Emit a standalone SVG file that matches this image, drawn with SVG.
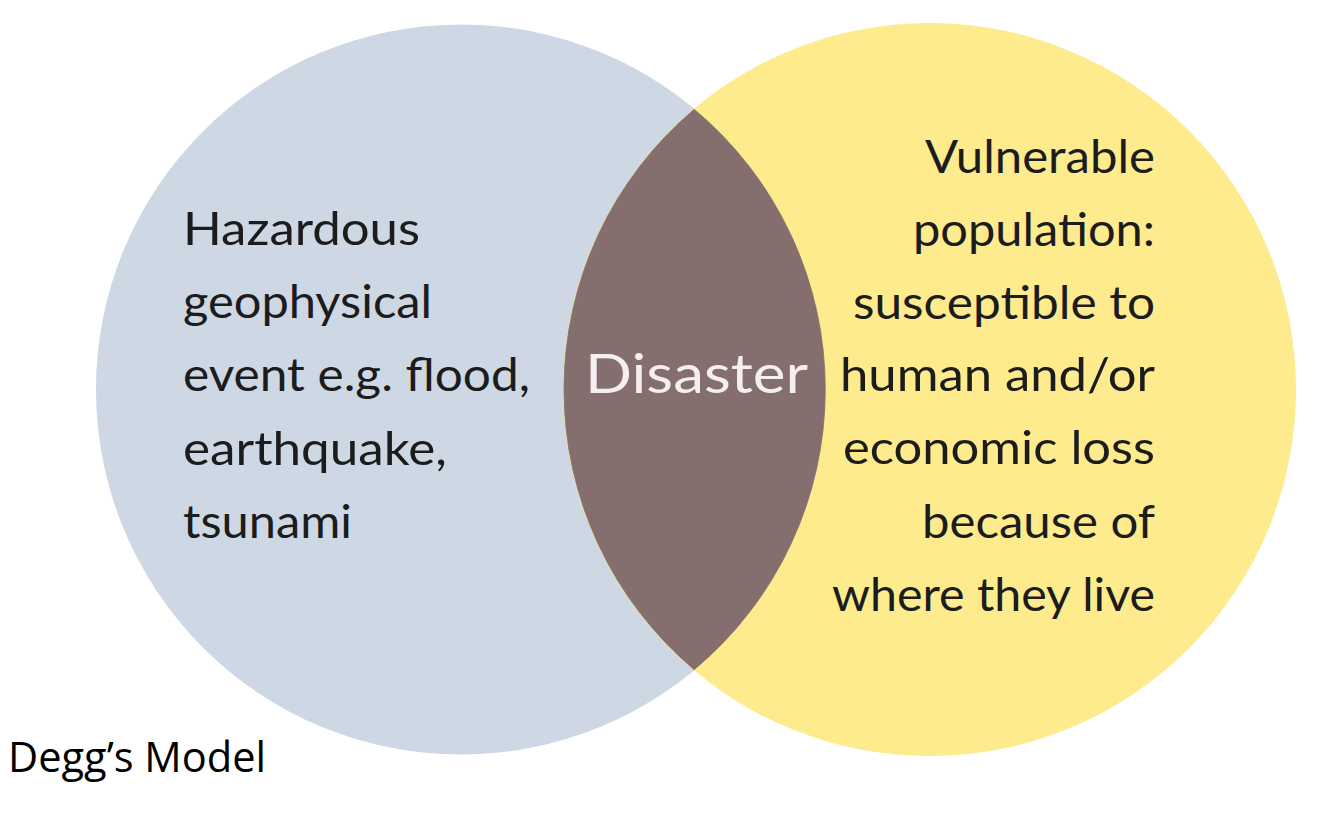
<svg xmlns="http://www.w3.org/2000/svg" width="1334" height="823" viewBox="0 0 1334 823">
<style>
.t{font-family:Lato,"Open Sans","DejaVu Sans",sans-serif;font-size:46px;fill:#1c1c1c}
.d{font-family:Lato,"Open Sans","DejaVu Sans",sans-serif;font-size:54px;fill:#f6efef}
.cap{font-family:"Open Sans","Liberation Sans",sans-serif;font-size:42px;fill:#000}
</style>
<rect width="1334" height="823" fill="#ffffff"/>
<g id="hazard">
<circle cx="461" cy="389.5" r="365" fill="#cdd8e4"/>
<text class="t" x="183" y="245" textLength="237" lengthAdjust="spacingAndGlyphs">Hazardous</text>
<text class="t" x="183" y="318" textLength="249" lengthAdjust="spacingAndGlyphs">geophysical</text>
<text class="t" x="183" y="391" textLength="347" lengthAdjust="spacingAndGlyphs">event e.g. flood,</text>
<text class="t" x="183" y="465" textLength="264" lengthAdjust="spacingAndGlyphs">earthquake,</text>
<text class="t" x="183" y="538" textLength="169" lengthAdjust="spacingAndGlyphs">tsunami</text>
</g>
<g id="vulnerable">
<circle cx="929.5" cy="389.5" r="366.5" fill="#fdeb8e"/>
<text class="t" x="925" y="173" textLength="230" lengthAdjust="spacingAndGlyphs">Vulnerable</text>
<text class="t" x="913" y="246" textLength="242" lengthAdjust="spacingAndGlyphs">population:</text>
<text class="t" x="853" y="319" textLength="302" lengthAdjust="spacingAndGlyphs">susceptible to</text>
<text class="t" x="840" y="391" textLength="315" lengthAdjust="spacingAndGlyphs">human and/or</text>
<text class="t" x="843" y="464" textLength="312" lengthAdjust="spacingAndGlyphs">economic loss</text>
<text class="t" x="922" y="538" textLength="233" lengthAdjust="spacingAndGlyphs">because of</text>
<text class="t" x="832" y="611" textLength="323" lengthAdjust="spacingAndGlyphs">where they live</text>
</g>
<g id="disaster">
<path d="M694.2,109.3 A365,365 0 0 1 694.2,669.7 A366.5,366.5 0 0 1 694.2,109.3 Z" fill="#846e6e" stroke="#846e6e" stroke-width="0.8"/>
<text class="d" x="585" y="393" textLength="223" lengthAdjust="spacingAndGlyphs">Disaster</text>
</g>
<g id="caption">
<text class="cap" x="8" y="772" textLength="258" lengthAdjust="spacingAndGlyphs">Degg’s Model</text>
</g>
</svg>
